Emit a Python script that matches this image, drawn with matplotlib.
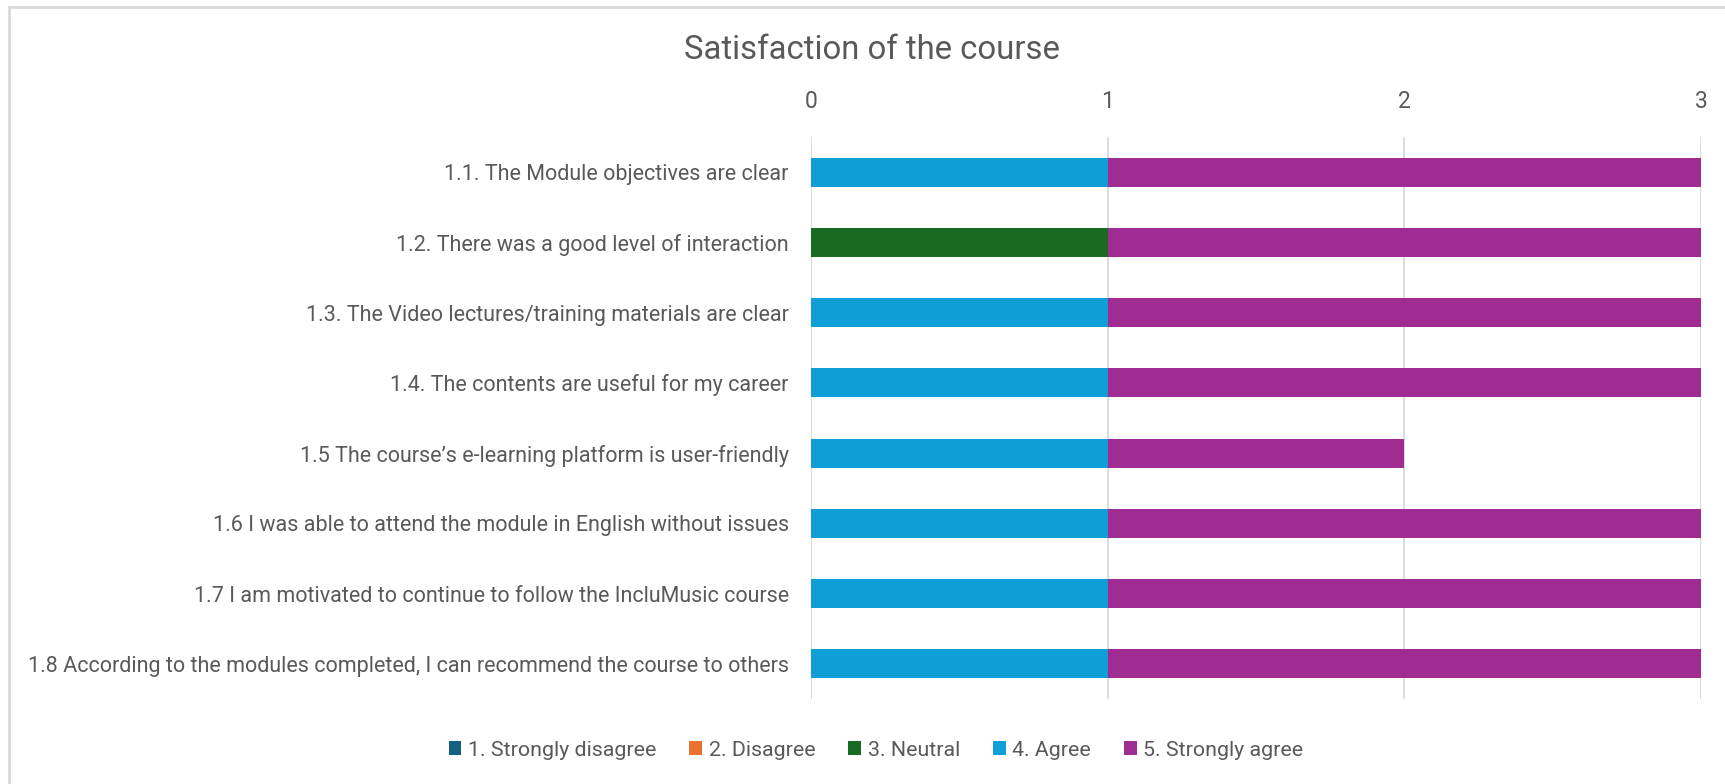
import matplotlib
matplotlib.use("Agg")
import matplotlib.pyplot as plt
import numpy as np

categories = [
    "1.1. The Module objectives are clear",
    "1.2. There was a good level of interaction",
    "1.3. The Video lectures/training materials are clear",
    "1.4. The contents are useful for my career",
    "1.5 The course\u2019s e-learning platform is user-friendly",
    "1.6 I was able to attend the module in English without issues",
    "1.7 I am motivated to continue to follow the IncluMusic course",
    "1.8 According to the modules completed, I can recommend the course to others",
]
series_names = ["1. Strongly disagree", "2. Disagree", "3. Neutral", "4. Agree", "5. Strongly agree"]
strongly_disagree = [0, 0, 0, 0, 0, 0, 0, 0]
disagree = [0, 0, 0, 0, 0, 0, 0, 0]
neutral = [0, 1, 0, 0, 0, 0, 0, 0]
agree = [1, 0, 1, 1, 1, 1, 1, 1]
strongly_agree = [2, 2, 2, 2, 1, 2, 2, 2]
x_ticks = [0, 1, 2, 3]
title = "Satisfaction of the course"

colors = ["#156082", "#E97132", "#196B24", "#0F9ED5", "#A02B93"]
text_color = "#595959"
grid_color = "#D9D9D9"

plt.rcParams['font.family'] = ['Roboto', 'DejaVu Sans']

W, H = 1725, 784
fig = plt.figure(figsize=(W / 100, H / 100), dpi=100)
ax = fig.add_axes([811 / W, 1 - 699 / H, (1701 - 811) / W, (699 - 137) / H])

y = np.arange(len(categories))
left = np.zeros(len(categories))
all_series = [strongly_disagree, disagree, neutral, agree, strongly_agree]
handles = []
for name, vals, c in zip(series_names, all_series, colors):
    vals = np.array(vals, dtype=float)
    b = ax.barh(y, vals, left=left, height=0.41, color=c, label=name, zorder=3)
    handles.append(b)
    left += vals

ax.set_xlim(0, 3)
ax.set_ylim(len(categories) - 0.5, -0.5)
ax.set_xticks(x_ticks)
ax.set_xticklabels([str(t) for t in x_ticks])
ax.xaxis.tick_top()
ax.set_yticks(y)
ax.set_yticklabels(categories)
ax.tick_params(axis='x', length=0, pad=17, labelsize=16.5, colors=text_color)
ax.tick_params(axis='y', length=0, pad=16, labelsize=15.5, colors=text_color)
for s in ax.spines.values():
    s.set_visible(False)
ax.grid(axis='x', color=grid_color, linewidth=1.3, zorder=0)
ax.set_axisbelow(True)

fig.text(872 / W, 1 - 50 / H, title, ha='center', va='center', fontsize=23.7, color=text_color)

leg = fig.legend(handles=handles, labels=series_names, loc='center', bbox_to_anchor=(876 / W, 1 - 750 / H),
                 ncol=5, frameon=False, fontsize=15.4, handlelength=0.6, handleheight=0.6,
                 handletextpad=0.3, columnspacing=1.55, labelcolor=text_color)

# outer frame (top and left edges visible)
fig.add_artist(plt.Line2D([9 / W, 1], [1 - 7 / H, 1 - 7 / H], transform=fig.transFigure, color=grid_color, lw=2))
fig.add_artist(plt.Line2D([9 / W, 9 / W], [0, 1 - 7 / H], transform=fig.transFigure, color=grid_color, lw=2))

fig.savefig("out.png", dpi=100, facecolor="white")
